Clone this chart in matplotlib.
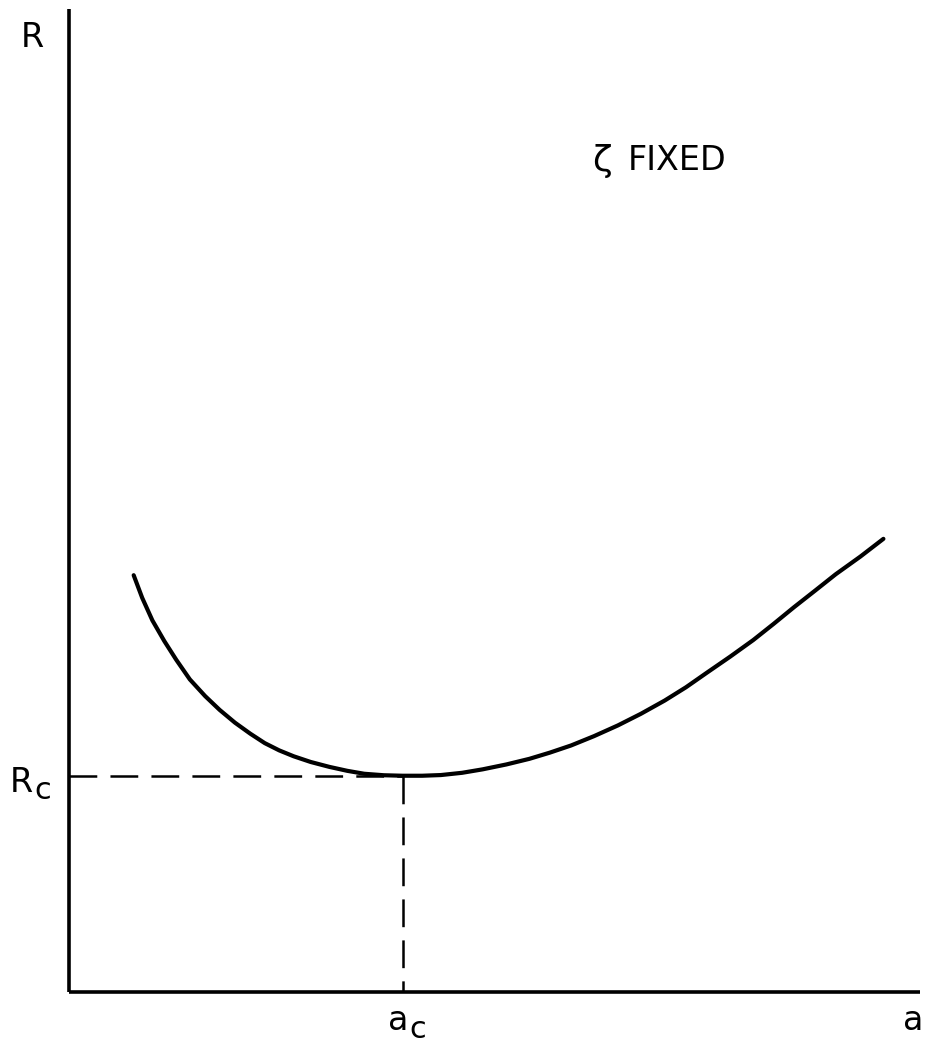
import matplotlib.pyplot as plt

# stability curve R(a) at fixed zeta, read in axis units (0..1)
a_vals = [0.076, 0.086, 0.098, 0.112, 0.126, 0.142, 0.160, 0.177, 0.195, 0.213,
          0.230, 0.247, 0.264, 0.284, 0.306, 0.327, 0.347, 0.370, 0.392, 0.415,
          0.437, 0.462, 0.486, 0.514, 0.541, 0.565, 0.590, 0.617, 0.645, 0.672,
          0.700, 0.725, 0.749, 0.777, 0.804, 0.828, 0.852, 0.877, 0.901, 0.930,
          0.957]
R_vals = [0.424, 0.401, 0.378, 0.357, 0.338, 0.318, 0.301, 0.287, 0.274, 0.2628,
          0.2532, 0.2458, 0.2398, 0.234, 0.229, 0.225, 0.222, 0.2205, 0.220, 0.220,
          0.2207, 0.2230, 0.2265, 0.2315, 0.2372, 0.2435, 0.2508, 0.2603, 0.2712, 0.2830,
          0.2965, 0.3100, 0.3245, 0.3412, 0.3580, 0.3745, 0.3915, 0.4085, 0.4250, 0.4430,
          0.461]
a_c = 0.392
R_c = 0.220

W, H = 925, 1044
plt.rcParams['lines.scale_dashes'] = False
fig = plt.figure(figsize=(W / 100, H / 100), dpi=100)
ax = fig.add_axes([69 / W, 1 - 992 / H, (920 - 69) / W, (992 - 9) / H])
ax.set_xlim(0, 1)
ax.set_ylim(0, 1)
for s in ('top', 'right'):
    ax.spines[s].set_visible(False)
for s in ('left', 'bottom'):
    ax.spines[s].set_linewidth(2.6)
    ax.spines[s].set_capstyle('butt')
ax.set_xticks([])
ax.set_yticks([])

ax.plot(a_vals, R_vals, color='black', lw=3.0, solid_capstyle='round',
        solid_joinstyle='round')
ax.plot([0, a_c], [R_c, R_c], color='black', lw=1.8, dashes=(20, 9.5))
ax.plot([a_c, a_c], [R_c, 0], color='black', lw=1.8, dashes=(20, 9.5))


def label(x, y, s, size=24):
    fig.text(x / W, 1 - y / H, s, fontsize=size, ha='left', va='baseline',
             family='DejaVu Sans')


label(21, 47, 'R')
label(10, 792, 'R')
label(34, 799, 'c', 22)
label(388, 1030, 'a')
label(409, 1038, 'c', 22)
label(903, 1030, 'a')
label(592, 171, 'ζ', 26)
label(628, 170, 'FIXED')

fig.savefig('out.png', dpi=100)
